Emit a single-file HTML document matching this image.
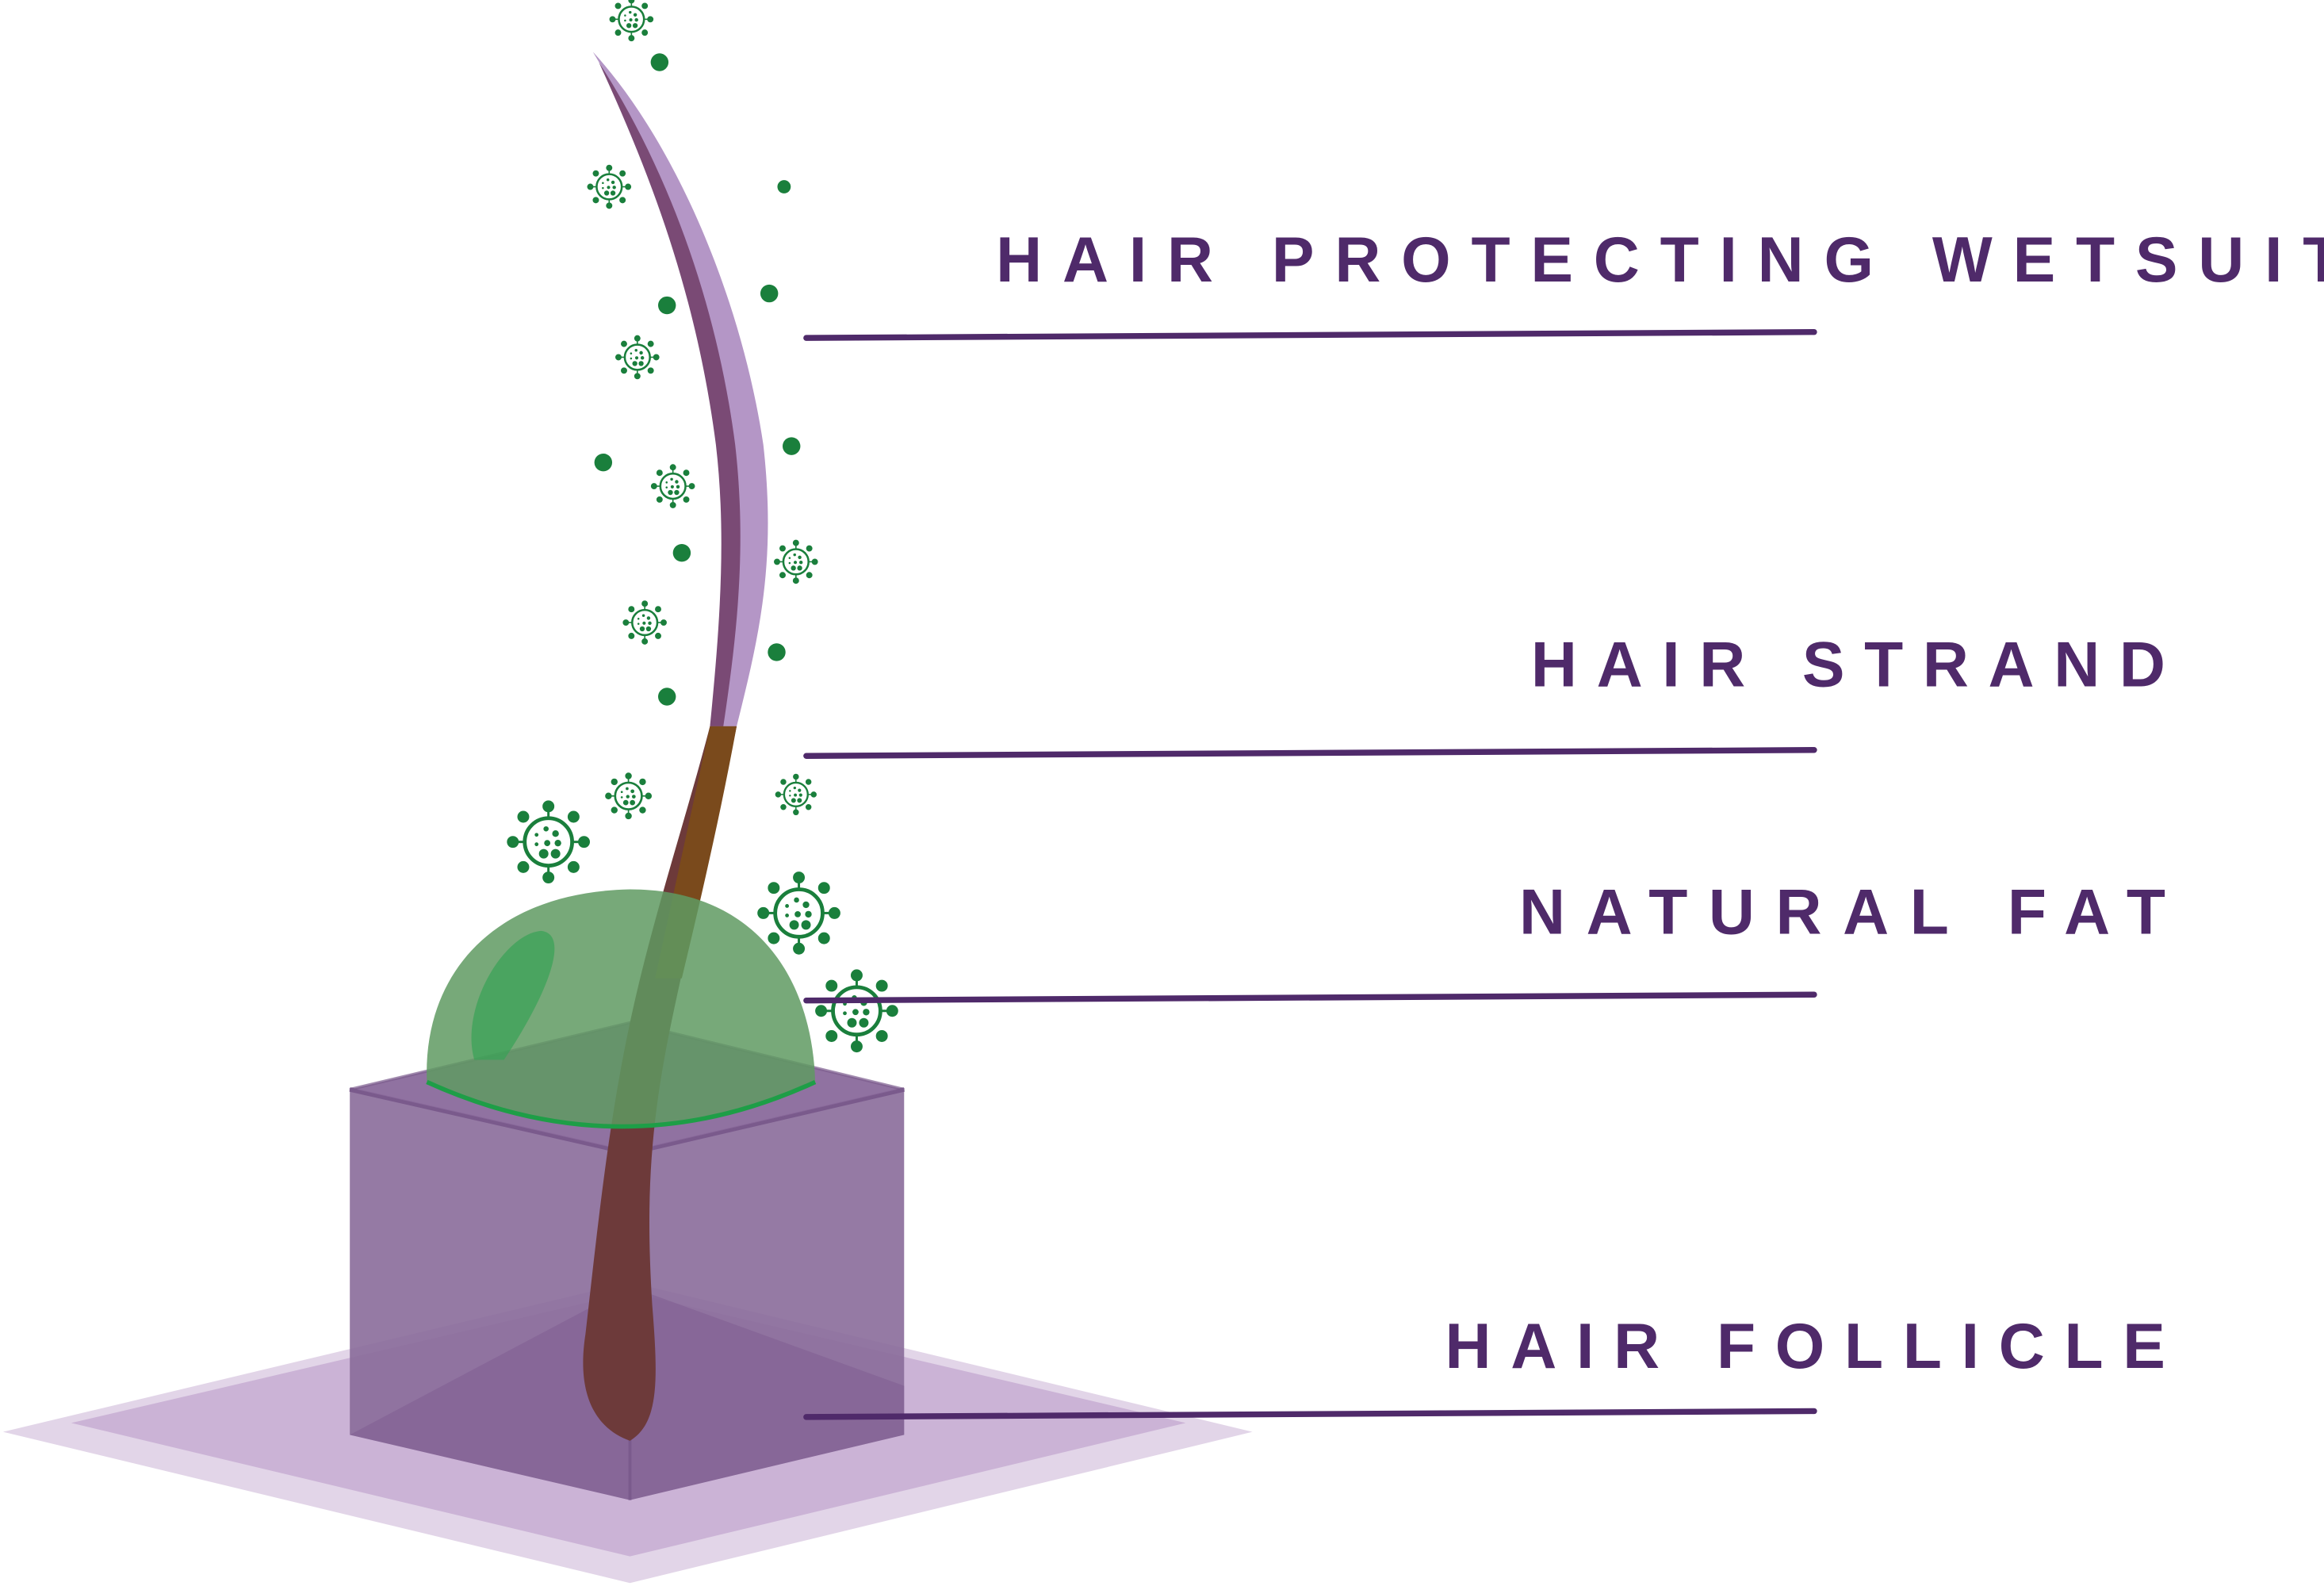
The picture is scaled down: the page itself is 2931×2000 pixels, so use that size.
<!DOCTYPE html>
<html><head><meta charset="utf-8"><style>html,body{margin:0;padding:0;background:#fff;overflow:hidden}svg{display:block}</style></head>
<body>
<svg width="2931" height="2000" viewBox="0 0 1568 1070" xmlns="http://www.w3.org/2000/svg">
<defs>
<g id="v">
<circle r="10" fill="none" stroke="#1a7f3c" stroke-width="1.6"/>
<g fill="#1a7f3c" stroke="#1a7f3c" stroke-width="1">
<line x1="0" y1="-10" x2="0" y2="-14"/><circle cx="0" cy="-15" r="2"/>
<line x1="0" y1="10" x2="0" y2="14"/><circle cx="0" cy="15" r="2"/>
<line x1="-10" y1="0" x2="-14" y2="0"/><circle cx="-15" cy="0" r="2"/>
<line x1="10" y1="0" x2="14" y2="0"/><circle cx="15" cy="0" r="2"/>
<circle cx="-10.6" cy="-10.6" r="2"/><circle cx="10.6" cy="-10.6" r="2"/>
<circle cx="-10.6" cy="10.6" r="2"/><circle cx="10.6" cy="10.6" r="2"/>
</g>
<g fill="#1a7f3c">
<circle cx="-1" cy="-5.5" r="1.1"/><circle cx="3" cy="-3.5" r="1.4"/><circle cx="-5" cy="-3" r="0.8"/>
<circle cx="-0.5" cy="0.5" r="1.3"/><circle cx="4" cy="0.5" r="1.4"/><circle cx="-5" cy="1" r="0.8"/>
<circle cx="-2" cy="5" r="2"/><circle cx="3" cy="5" r="2"/>
</g></g>
</defs>
<polygon points="2,966 425,865 845,966 425,1068" fill="#e2d5e8"/>
<polygon points="48,960 425,872 800,960 425,1050" fill="#cbb3d6"/>
<polygon points="236,735 425,690 610,735 610,968 425,1012 236,968" fill="#8a6c9a" opacity="0.9"/>
<polygon points="236,968 425,868 610,935 610,968 425,1012" fill="#7d5c90" opacity="0.5"/>
<polyline points="236,735 425,778 610,735" fill="none" stroke="#7a5a8c" stroke-width="3"/>
<polygon points="236,735 425,690 610,735 425,778" fill="#8f6fa0" opacity="0.7" stroke="#7a5a8c" stroke-width="2"/>
<line x1="425" y1="778" x2="425" y2="1012" stroke="#7a5a8c" stroke-width="2"/>
<!-- hair -->
<path d="M400,35 C455,95 500,200 515,300 C524,380 512,430 497,490 L479,490 C490,420 500,360 492,300 C478,200 445,110 400,35 Z" fill="#b496c6"/>
<path d="M404,42 C448,110 483,200 496,300 C504,370 497,430 488,490 L479,490 C486,420 490,360 483,300 C470,200 440,120 404,42 Z" fill="#7a4a75"/>
<path d="M479,490 L497,490 C485,550 470,610 455,680 C440,750 435,800 440,880 C444,930 445,960 425,972 C405,965 388,945 395,900 C403,830 410,760 425,690 C440,620 462,555 479,490 Z" fill="#6d3a3a"/>
<path d="M479,490 L497,490 C486,550 472,610 460,660 L442,660 C455,600 467,545 479,490 Z" fill="#7a4a1c"/>
<path d="M288,730 C285,660 330,602 425,600 C510,600 548,660 550,730 Q420,790 288,730 Z" fill="#5f9a62" opacity="0.85"/>
<path d="M320,715 C310,680 340,630 365,628 C385,630 370,670 340,715 Z" fill="#38a356" opacity="0.7"/>
<path d="M288,730 Q420,790 550,730" fill="none" stroke="#1e9e47" stroke-width="3"/>
<g fill="#1a7f3c">
<circle cx="445" cy="42" r="6"/><circle cx="529" cy="126" r="4.5"/><circle cx="519" cy="198" r="6"/>
<circle cx="450" cy="206" r="6"/><circle cx="407" cy="312" r="6"/><circle cx="534" cy="301" r="6"/>
<circle cx="460" cy="373" r="6"/><circle cx="524" cy="440" r="6"/><circle cx="450" cy="470" r="6"/>
</g>
<use href="#v" transform="translate(426,13) scale(0.85)"/>
<use href="#v" transform="translate(411,126) scale(0.85)"/>
<use href="#v" transform="translate(430,241) scale(0.85)"/>
<use href="#v" transform="translate(454,328) scale(0.85)"/>
<use href="#v" transform="translate(537,379) scale(0.85)"/>
<use href="#v" transform="translate(435,420) scale(0.85)"/>
<use href="#v" transform="translate(424,537) scale(0.9)"/>
<use href="#v" transform="translate(537,536) scale(0.8)"/>
<use href="#v" transform="translate(370,568) scale(1.6)"/>
<use href="#v" transform="translate(539,616) scale(1.6)"/>
<use href="#v" transform="translate(578,682) scale(1.6)"/>
<g stroke="#4f2a6a" stroke-width="4" stroke-linecap="round">
<line x1="544" y1="228" x2="1224" y2="224"/>
<line x1="544" y1="510" x2="1224" y2="506"/>
<line x1="544" y1="675" x2="1224" y2="671"/>
<line x1="544" y1="956" x2="1224" y2="952"/>
</g>
<g fill="#4f2a6a" font-family="'Liberation Sans',sans-serif" font-weight="bold" font-size="43">
<text x="672" y="190" textLength="908" lengthAdjust="spacing">HAIR PROTECTING WETSUIT</text>
<text x="1033" y="463" textLength="428" lengthAdjust="spacing">HAIR STRAND</text>
<text x="1025" y="630" textLength="436" lengthAdjust="spacing">NATURAL FAT</text>
<text x="975" y="923" textLength="486" lengthAdjust="spacing">HAIR FOLLICLE</text>
</g>
</svg>
</body></html>
